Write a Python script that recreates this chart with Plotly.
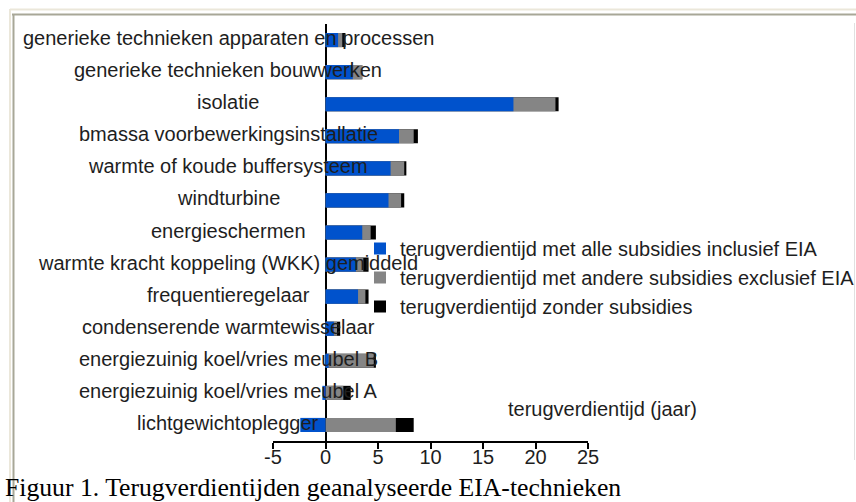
import plotly.graph_objects as go

categories = [
    "generieke technieken apparaten en processen",
    "generieke technieken bouwwerken",
    "isolatie",
    "bmassa voorbewerkingsinstallatie",
    "warmte of koude buffersysteem",
    "windturbine",
    "energieschermen",
    "warmte kracht koppeling (WKK) gemiddeld",
    "frequentieregelaar",
    "condenserende warmtewisselaar",
    "energiezuinig koel/vries meubel B",
    "energiezuinig koel/vries meubel A",
    "lichtgewichtoplegger",
]
met_alle_subsidies = [1.2, 2.6, 17.9, 7.0, 6.2, 6.0, 3.5, 2.9, 3.1, 0.8, 0.3, -0.3, -2.4]
met_andere_subsidies = [1.6, 3.5, 21.9, 8.4, 7.5, 7.2, 4.3, 3.6, 3.8, 1.1, 4.6, 1.7, 6.7]
zonder_subsidies = [1.9, 3.5, 22.2, 8.8, 7.7, 7.5, 4.8, 4.1, 4.1, 1.4, 4.8, 2.4, 8.4]
series_names = [
    "terugverdientijd met alle subsidies inclusief EIA",
    "terugverdientijd met andere subsidies exclusief EIA",
    "terugverdientijd zonder subsidies",
]
x_ticks = [-5, 0, 5, 10, 15, 20, 25]
axis_title = "terugverdientijd (jaar)"
caption = "Figuur 1. Terugverdientijden geanalyseerde EIA-technieken"

# the page body margin is removed (post_script), so the figure fills the window
W, H = 856, 502
# plot area in pixels: x 273..588, y 24..441
SL, SR, ST, SB = 273, 588, 24, 441
L, T = SL, ST
R, B = W - SR, H - SB
PW, PH = SR - SL, SB - ST


def px(X):
    return (X - SL) / PW


def py(Y):
    return (SB - Y) / PH


FONT = "Arial, Liberation Sans, sans-serif"
TXT = "#1e1e1e"

fig = go.Figure()
fig.add_trace(go.Bar(y=categories, x=zonder_subsidies, orientation="h",
                     marker=dict(color="#000000", line=dict(width=0)),
                     name=series_names[2], legendgroup="c"))
fig.add_trace(go.Bar(y=categories, x=met_andere_subsidies, orientation="h",
                     marker=dict(color="#858585", line=dict(width=0)),
                     name=series_names[1], legendgroup="b"))
fig.add_trace(go.Bar(y=categories, x=met_alle_subsidies, orientation="h",
                     marker=dict(color="#0052cc", line=dict(width=0)),
                     name=series_names[0], legendgroup="a"))

annotations = []
for c in categories:
    annotations.append(dict(x=px(228), xref="paper", y=c, yref="y", yshift=2,
                            text=c, showarrow=False, xanchor="center",
                            yanchor="middle",
                            font=dict(family=FONT, size=20, color=TXT)))
annotations.append(dict(x=px(602), xref="paper", y=py(409), yref="paper",
                        text=axis_title, showarrow=False, xanchor="center",
                        yanchor="middle", font=dict(family=FONT, size=20, color=TXT)))
annotations.append(dict(x=px(3), xref="paper", y=py(487), yref="paper",
                        text=caption, showarrow=False, xanchor="left",
                        yanchor="middle", height=28, valign="middle",
                        font=dict(family="Liberation Serif, Times New Roman, serif",
                                  size=25.7, color="#000000")))

shapes = [
    dict(type="line", xref="paper", yref="paper", x0=px(10), x1=px(856),
         y0=py(9.5), y1=py(9.5), line=dict(color="#ebe7da", width=2)),
    dict(type="line", xref="paper", yref="paper", x0=px(12), x1=px(856),
         y0=py(14.5), y1=py(14.5), line=dict(color="#a8a797", width=2)),
    dict(type="line", xref="paper", yref="paper", x0=px(10), x1=px(10),
         y0=py(9), y1=py(502), line=dict(color="#ebe7da", width=2)),
    dict(type="line", xref="paper", yref="paper", x0=px(13.5), x1=px(13.5),
         y0=py(14), y1=py(502), line=dict(color="#a8a797", width=2)),
    dict(type="line", xref="paper", yref="paper", x0=px(854.5), x1=px(854.5),
         y0=py(23), y1=py(460), line=dict(color="#e0e0e0", width=1)),
]

fig.update_layout(
    width=W, height=H,
    margin=dict(l=L, r=R, t=T, b=B, pad=0, autoexpand=False),
    paper_bgcolor="white", plot_bgcolor="white",
    barmode="overlay", bargap=0.56,
    font=dict(family=FONT, size=20, color=TXT),
    showlegend=True,
    legend=dict(x=px(360), y=py(229), xanchor="left", yanchor="top",
                traceorder="reversed", bgcolor="rgba(0,0,0,0)",
                font=dict(family=FONT, size=20, color=TXT),
                itemwidth=30),
    annotations=annotations,
    shapes=shapes,
)
fig.update_xaxes(range=[-5, 25], tickvals=x_ticks, ticktext=[str(v) for v in x_ticks],
                 showgrid=False, showline=True, linecolor="#000000", linewidth=2,
                 ticks="outside", ticklen=6, tickwidth=2, tickcolor="#000000",
                 ticklabelstandoff=-9,
                 zeroline=True, zerolinecolor="#000000", zerolinewidth=2,
                 layer="above traces",
                 tickfont=dict(family=FONT, size=20, color=TXT))
fig.update_yaxes(categoryorder="array", categoryarray=categories,
                 autorange="reversed", showticklabels=False, showgrid=False,
                 showline=False, ticks="", zeroline=False)

fig.write_html("out.html",
               config={"displayModeBar": False},
               post_script="document.body.style.margin='0';"
                           "document.body.style.overflow='hidden';")
